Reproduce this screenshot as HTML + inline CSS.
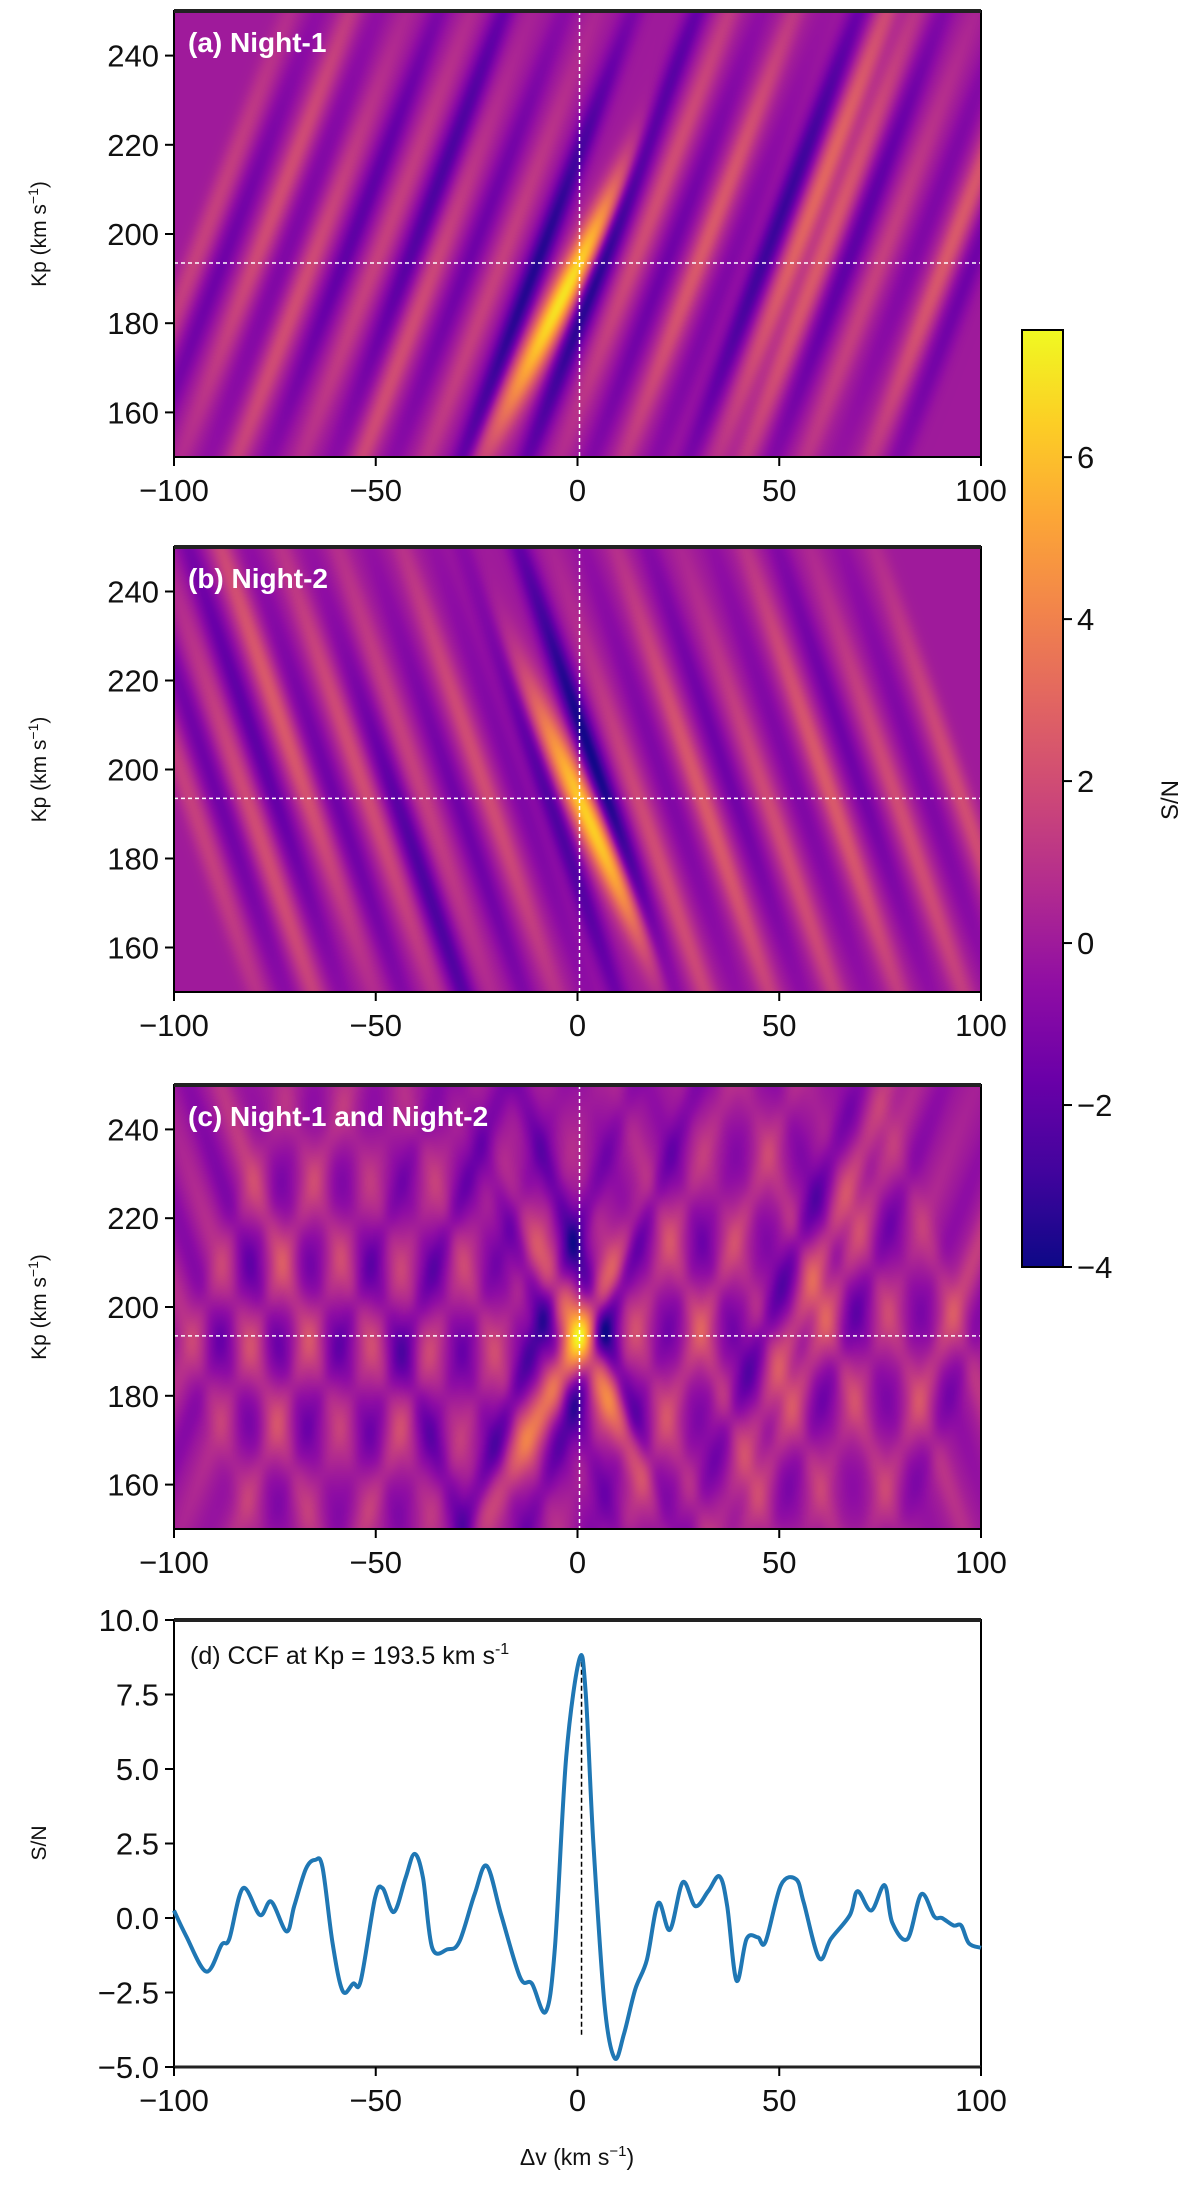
<!DOCTYPE html>
<html><head><meta charset="utf-8">
<style>
html,body{margin:0;padding:0;background:#fff;}
#wrap{position:relative;width:1200px;height:2200px;overflow:hidden;font-family:"Liberation Sans",sans-serif;}
canvas{position:absolute;}
svg{position:absolute;left:0;top:0;}
</style></head>
<body>
<div id="wrap">
<canvas id="ca" width="807" height="446" style="left:174px;top:11px"></canvas>
<canvas id="cb" width="807" height="445" style="left:174px;top:547px"></canvas>
<canvas id="cc" width="807" height="444" style="left:174px;top:1085px"></canvas>
<svg id="svg" width="1200" height="2200" xmlns="http://www.w3.org/2000/svg">
<defs>
<linearGradient id="plasma" x1="0" y1="1" x2="0" y2="0">
<stop offset="0" stop-color="#0d0887"/><stop offset="0.1" stop-color="#41049d"/><stop offset="0.2" stop-color="#6a00a8"/><stop offset="0.3" stop-color="#8f0da4"/><stop offset="0.4" stop-color="#b12a90"/><stop offset="0.5" stop-color="#cc4778"/><stop offset="0.6" stop-color="#e16462"/><stop offset="0.7" stop-color="#f2844b"/><stop offset="0.8" stop-color="#fca636"/><stop offset="0.9" stop-color="#fcce25"/><stop offset="1" stop-color="#f0f921"/>
</linearGradient>
</defs>
</svg>
</div>
<script>
// ---- data ----
const dvTicks = [-100, -50, 0, 50, 100];
const kpTicks = [160, 180, 200, 220, 240];
const cbarTicks = [-4, -2, 0, 2, 4, 6];
const ccfTicks = [-5.0, -2.5, 0.0, 2.5, 5.0, 7.5, 10.0];
const kpPeak = 193.5;
const dvPeak = 0.5;
// Night-1 ridges (dv at Kp=193.5), amplitudes, Kp centres
const aCenters = [-95,-88,-80,-73,-66,-58,-50,-42,-35,-27,-19,-10,0.5,6,14,22,30,38,46,53,60,67,75,83,91,98];
const aAmps    = [1.5,-1.5,2,-1,2,-2,1.5,-2.5,2,-1.5,1.5,-3.5,7,-4,2,-1.5,2.5,-1,-3,3,2.5,-2,1.5,-1,2.5,-1.5];
const aKpMid   = [200,190,210,200,180,205,195,215,170,200,185,190,186,200,210,190,200,180,205,210,195,200,185,210,200,190];
// Night-2 ridges
const bCenters = [-96,-89,-82,-75,-67,-60,-52,-45,-38,-30,-22,-14,-7,0.5,7,15,23,31,39,47,55,63,71,79,87,95];
const bAmps    = [1.5,-1.5,2,-2,2.5,-1.5,2,-2.5,1.5,-1.5,2,-1,-2.5,6.5,-4,2,-1,2.5,-1.5,2,-1,2.5,-1.5,2,-1,2];
const bKpMid   = [190,200,180,210,215,190,200,170,205,185,200,195,190,188,200,175,200,190,205,180,200,195,210,185,200,190];
// CCF at Kp = 193.5
const ccfDv = [-100,-97,-92,-88.2,-86.3,-82.9,-78.7,-75.9,-72.1,-70.2,-67.3,-65,-63.2,-60.7,-58.2,-55.6,-53.7,-50.2,-48.3,-45.5,-42.6,-40.4,-38.3,-36,-32.2,-29.3,-25.5,-22.5,-18.9,-14.2,-11.3,-7.9,-5.6,-2.8,0.5,2,3.9,6.7,9.2,11.5,14.3,17.2,20,22.9,26.1,29.2,32.4,35.2,37.1,39.4,41.9,44.7,46.6,50.4,54.2,56.1,59.9,62.8,67.5,69.4,72.8,76.1,78,81.8,85.2,88.4,90.3,93.2,95.1,97,100];
const ccfSN = [0.25,-0.6,-1.8,-0.9,-0.7,1.0,0.1,0.55,-0.45,0.4,1.65,1.95,1.7,-0.85,-2.45,-2.2,-2.1,0.65,1.0,0.2,1.35,2.15,1.35,-1.0,-1.05,-0.8,0.8,1.75,0.1,-2.0,-2.2,-3.15,-1.0,5.4,8.7,7.6,2.6,-2.9,-4.7,-3.9,-2.4,-1.4,0.5,-0.4,1.2,0.4,0.9,1.4,0.4,-2.1,-0.7,-0.65,-0.8,1.1,1.3,0.5,-1.35,-0.7,0.1,0.9,0.25,1.1,-0.15,-0.7,0.8,0.05,0,-0.25,-0.25,-0.85,-1.0];

// ---- geometry ----
const X0 = 174, X1 = 981;
const panels = [{t:11,b:457,label:"(a) Night-1",id:"a"},{t:547,b:992,label:"(b) Night-2",id:"b"},{t:1085,b:1529,label:"(c) Night-1 and Night-2",id:"c"}];
const D = {t:1620,b:2067};
const xs = v => X0 + (v + 100) / 200 * (X1 - X0);
const ysK = (p, k) => p.b - (k - 150) / 100 * (p.b - p.t);
const ysD = v => D.b - (v + 5) / 15 * (D.b - D.t);
const CB = {l:1022,r:1063,t:330,b:1267,min:-4,max:7.57};
const ysC = v => CB.b - (v - CB.min) / (CB.max - CB.min) * (CB.b - CB.t);

const stops = [[13,8,135],[65,4,157],[106,0,168],[143,13,164],[177,42,144],[204,71,120],[225,100,98],[242,132,75],[252,166,54],[252,206,37],[240,249,33]];
function plasma(t){t=Math.max(0,Math.min(1,t));const f=t*10,i=Math.min(9,Math.floor(f)),r=f-i;const a=stops[i],b=stops[i+1];return [a[0]+(b[0]-a[0])*r,a[1]+(b[1]-a[1])*r,a[2]+(b[2]-a[2])*r];}

function field(centers, amps, kmid, slope, dv, kp){
  let v = 0.0;
  for (let i=0;i<centers.length;i++){
    const main = Math.abs(centers[i]-dvPeak)<0.01;
    const s = main ? slope*1.3 : slope;
    const u = dv - centers[i] - s*(kp-kpPeak);
    const w = main ? 2.8 : 2.1;
    const sig = main ? 22 : 40;
    const e = Math.exp(-((kp-kmid[i])**2)/(2*sig*sig));
    v += amps[i]*Math.exp(-u*u/(2*w*w))*e;
  }
  return v;
}
function draw(id, fn){
  const c=document.getElementById(id), ctx=c.getContext('2d');
  const W=c.width,H=c.height, img=ctx.createImageData(W,H);
  for(let y=0;y<H;y++){const kp=250-(y+0.5)/H*100;
    for(let x=0;x<W;x++){const dv=-100+(x+0.5)/W*200;
      const v=fn(dv,kp);const col=plasma((v-CB.min)/(CB.max-CB.min));const k=(y*W+x)*4;
      img.data[k]=col[0];img.data[k+1]=col[1];img.data[k+2]=col[2];img.data[k+3]=255;}}
  ctx.putImageData(img,0,0);
}
const fa=(dv,kp)=>field(aCenters,aAmps,aKpMid,0.42,dv,kp);
const fb=(dv,kp)=>field(bCenters,bAmps,bKpMid,-0.38,dv,kp);
draw('ca',fa); draw('cb',fb); draw('cc',(dv,kp)=>0.6*(fa(dv,kp)+fb(dv,kp)));

// ---- svg ----
const svg=document.getElementById('svg'), NS="http://www.w3.org/2000/svg";
function el(tag,attrs,parent,text){const e=document.createElementNS(NS,tag);for(const k in attrs)e.setAttribute(k,attrs[k]);if(text!==undefined)e.textContent=text;(parent||svg).appendChild(e);return e;}
const fmt = v => (v<0?"\u2212":"")+Math.abs(v);

panels.forEach(p=>{
  const g=el('g',{});
  
  
  const h=el('line',{x1:X0,x2:X1,y1:ysK(p,kpPeak),y2:ysK(p,kpPeak),stroke:'#fff','stroke-width':1.5,'stroke-dasharray':'4,3'},g);
  
  const v=el('line',{x1:xs(dvPeak),x2:xs(dvPeak),y1:p.t,y2:p.b,stroke:'#fff','stroke-width':1.5,'stroke-dasharray':'4,3'},g);
  
  const fr=el('rect',{x:X0,y:p.t,width:X1-X0,height:p.b-p.t,fill:'none',stroke:'#000','stroke-width':2},g);
  
  el('line',{x1:X0,x2:X1,y1:p.t,y2:p.t,stroke:'#222','stroke-width':4},g);
  dvTicks.forEach(t=>{el('line',{x1:xs(t),x2:xs(t),y1:p.b,y2:p.b+9,stroke:'#000','stroke-width':2},g);
    const tx=el('text',{x:xs(t),y:p.b+44,'font-size':31,'text-anchor':'middle',fill:'#111'},g,fmt(t));
    });
  kpTicks.forEach(t=>{el('line',{x1:X0-9,x2:X0,y1:ysK(p,t),y2:ysK(p,t),stroke:'#000','stroke-width':2},g);
    const tx=el('text',{x:X0-15,y:ysK(p,t)+11,'font-size':31,'text-anchor':'end',fill:'#111'},g,t);
    });
  const cy=(p.t+p.b)/2;
  const yt=el('text',{x:46,y:cy,'font-size':21,'text-anchor':'middle',transform:`rotate(-90 46 ${cy})`,fill:'#111'},g);
  
  el('tspan',{},yt,'Kp (km s'); el('tspan',{'font-size':14,dy:-8},yt,'\u22121'); el('tspan',{dy:8},yt,')');
  const lb=el('text',{x:188,y:p.t+41,'font-size':28,'font-weight':'bold',fill:'#fff'},g,p.label);
  
});

// colorbar
const cb=el('g',{});

el('rect',{x:CB.l,y:CB.t,width:CB.r-CB.l,height:CB.b-CB.t,fill:'url(#plasma)',stroke:'#000','stroke-width':2},cb);
cbarTicks.forEach(t=>{el('line',{x1:CB.r,x2:CB.r+9,y1:ysC(t),y2:ysC(t),stroke:'#000','stroke-width':2},cb);
  const tx=el('text',{x:CB.r+14,y:ysC(t)+11,'font-size':31,fill:'#111'},cb,fmt(t));
  });
const cbt=el('text',{x:1178,y:800,'font-size':24,'text-anchor':'middle',transform:'rotate(-90 1178 800)',fill:'#111'},cb,'S/N');


// panel d
const gd=el('g',{});

const frd=el('rect',{x:X0,y:D.t,width:X1-X0,height:D.b-D.t,fill:'#fff',stroke:'#000','stroke-width':2},gd);

el('line',{x1:X0,x2:X1,y1:D.t,y2:D.t,stroke:'#222','stroke-width':4},gd);
el('line',{x1:X0,x2:X1,y1:D.b,y2:D.b,stroke:'#222','stroke-width':3},gd);
dvTicks.forEach(t=>{el('line',{x1:xs(t),x2:xs(t),y1:D.b,y2:D.b+9,stroke:'#000','stroke-width':2},gd);
  const tx=el('text',{x:xs(t),y:D.b+44,'font-size':31,'text-anchor':'middle',fill:'#111'},gd,fmt(t));
  });
ccfTicks.forEach(t=>{el('line',{x1:X0-9,x2:X0,y1:ysD(t),y2:ysD(t),stroke:'#000','stroke-width':2},gd);
  const tx=el('text',{x:X0-15,y:ysD(t)+11,'font-size':31,'text-anchor':'end',fill:'#111'},gd,(t<0?"\u2212":"")+Math.abs(t).toFixed(1));
  });
const vl=el('line',{x1:xs(dvPeak+0.5),x2:xs(dvPeak+0.5),y1:ysD(8.6),y2:ysD(-4.0),stroke:'#000','stroke-width':1.5,'stroke-dasharray':'5,3'},gd);

// smooth path (Catmull-Rom)
const P=ccfDv.map((d,i)=>[xs(d),ysD(ccfSN[i])]);
let dpath='M'+P[0][0].toFixed(1)+','+P[0][1].toFixed(1);
for(let i=0;i<P.length-1;i++){const p0=P[Math.max(0,i-1)],p1=P[i],p2=P[i+1],p3=P[Math.min(P.length-1,i+2)];
  const c1=[p1[0]+(p2[0]-p0[0])/6,p1[1]+(p2[1]-p0[1])/6],c2=[p2[0]-(p3[0]-p1[0])/6,p2[1]-(p3[1]-p1[1])/6];
  dpath+=` C${c1[0].toFixed(1)},${c1[1].toFixed(1)} ${c2[0].toFixed(1)},${c2[1].toFixed(1)} ${p2[0].toFixed(1)},${p2[1].toFixed(1)}`;}
const pl=el('path',{d:dpath,fill:'none',stroke:'#1f77b4','stroke-width':4,'stroke-linejoin':'round'},gd);

const dl=el('text',{x:190,y:1664,'font-size':25,fill:'#111'},gd);

el('tspan',{},dl,'(d) CCF at Kp = 193.5 km s'); el('tspan',{'font-size':16,dy:-10},dl,'-1');
const dyt=el('text',{x:46,y:1843,'font-size':21,'text-anchor':'middle',transform:'rotate(-90 46 1843)',fill:'#111'},gd,'S/N');

const dxt=el('text',{x:577,y:2165,'font-size':23,'text-anchor':'middle',fill:'#111'},gd);

el('tspan',{},dxt,'\u0394v (km s'); el('tspan',{'font-size':15,dy:-9},dxt,'\u22121'); el('tspan',{dy:9},dxt,')');
</script>
</body></html>
